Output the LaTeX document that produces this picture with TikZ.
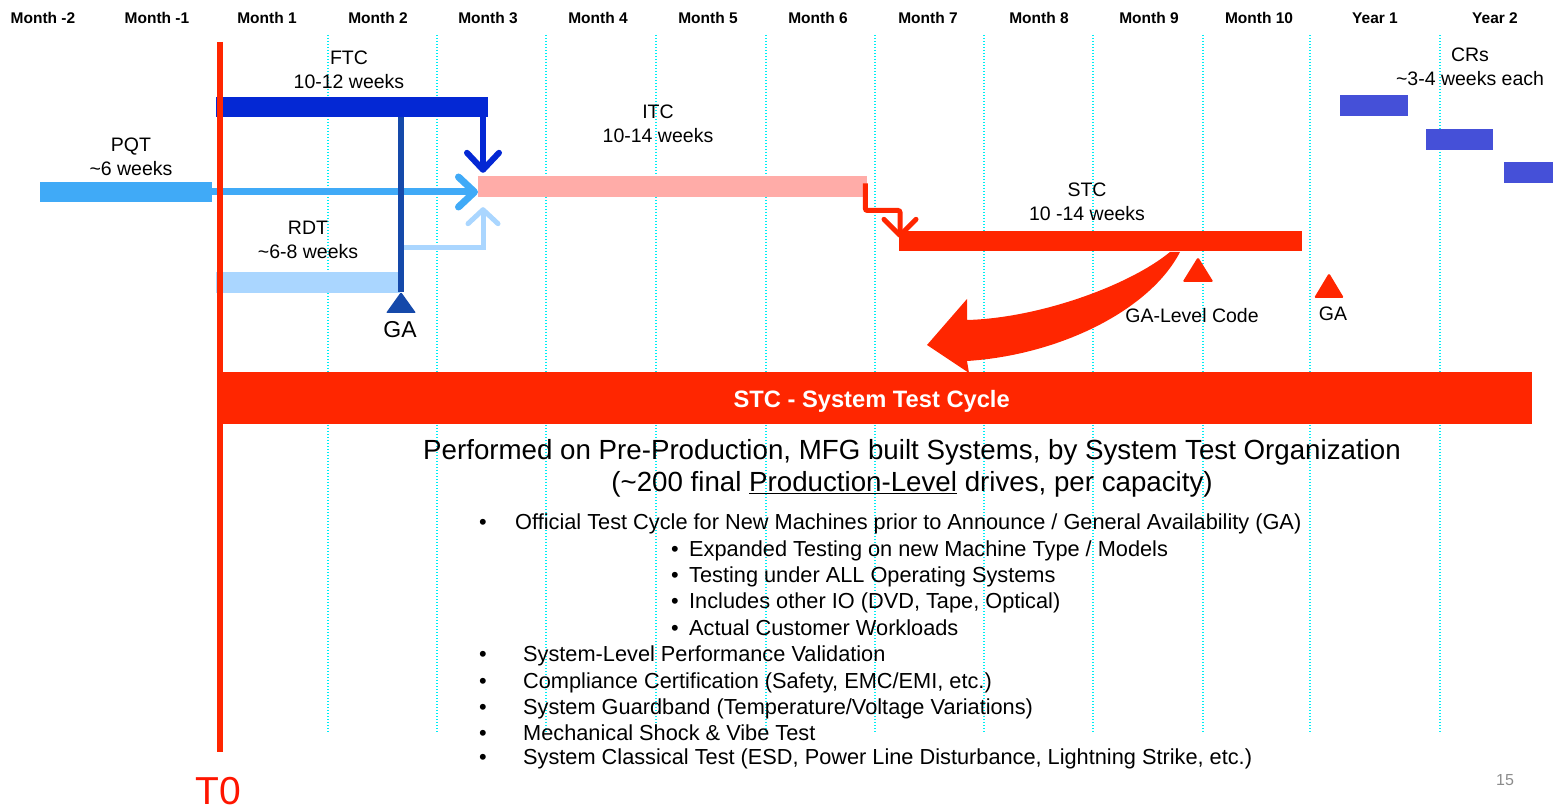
\documentclass[tikz,border=0pt]{standalone}
\usepackage{fontspec}
\setmainfont{Liberation Sans}
\usetikzlibrary{arrows.meta}

\definecolor{stcred}{HTML}{FF2600}
\definecolor{t0red}{HTML}{FF1500}
\definecolor{ftcblue}{HTML}{0428D4}
\definecolor{gablue}{HTML}{1549AA}
\definecolor{pqtblue}{HTML}{40AAF7}
\definecolor{rdtblue}{HTML}{AAD6FF}
\definecolor{itcpink}{HTML}{FFACA8}
\definecolor{crblue}{HTML}{4550D8}
\definecolor{gridcyan}{HTML}{00EEF6}
\definecolor{pagegray}{HTML}{8C8C8C}

\begin{document}
\begin{tikzpicture}[x=1pt,y=-1pt,
  bar/.style={rectangle, inner sep=0pt, anchor=west, minimum height=20pt},
  month/.style={inner sep=0pt, font=\fontsize{15.5}{18}\selectfont\bfseries},
  lbl/.style={align=center, inner sep=0pt, font=\fontsize{19.5}{24}\selectfont},
  item/.style={anchor=base west, inner sep=0pt, font=\fontsize{21.75}{26}\selectfont},
  grid/.style={draw=gridcyan, line width=1.4pt, dash pattern=on 1.4pt off 1.6pt}]
\useasboundingbox (0,0) rectangle (1553,810);

% month lines, about 109.3 apart
\draw[grid] (328,35)--(328,733) (437,35)--(437,733) (546,35)--(546,733)
  (656,35)--(656,733) (766,35)--(766,733) (875,35)--(875,733)
  (984,35)--(984,733) (1093,35)--(1093,733) (1203,35)--(1203,733)
  (1310,35)--(1310,733) (1440,35)--(1440,733);

\node[month] (mm2) at (43,18) {Month -2};
\node[month] (mm1) at (157,18) {Month -1};
\node[month] (m1) at (267,18) {Month 1};
\node[month] (m2) at (378,18) {Month 2};
\node[month] (m3) at (488,18) {Month 3};
\node[month] (m4) at (598,18) {Month 4};
\node[month] (m5) at (708,18) {Month 5};
\node[month] (m6) at (818,18) {Month 6};
\node[month] (m7) at (928,18) {Month 7};
\node[month] (m8) at (1039,18) {Month 8};
\node[month] (m9) at (1149,18) {Month 9};
\node[month] (m10) at (1259,18) {Month 10};
\node[month] (y1) at (1375,18) {Year 1};
\node[month] (y2) at (1495,18) {Year 2};

% test phases
\node[bar, fill=pqtblue, minimum width=172pt] (pqt) at (40,192) {};
\node[bar, fill=ftcblue, minimum width=272pt] (ftc) at (216,107) {};
\node[bar, fill=rdtblue, minimum width=184pt, minimum height=21pt] (rdt) at (216,282.5) {};
\node[bar, fill=itcpink, minimum width=389pt, minimum height=21pt] (itc) at (478,186.5) {};
\node[bar, fill=stcred, minimum width=403pt] (stc) at (899,241) {};
\node[bar, fill=crblue, minimum width=68pt, minimum height=21pt] (cr1) at (1340,105.5) {};
\node[bar, fill=crblue, minimum width=67pt, minimum height=21pt] (cr2) at (1426,139.5) {};
\node[bar, fill=crblue, minimum width=49pt, minimum height=21pt] (cr3) at (1504,172.5) {};

\node[lbl] (ftc_lbl) at (349,70) {FTC\\10-12 weeks};
\node[lbl] (pqt_lbl) at (131,157) {PQT\\\textasciitilde6 weeks};
\node[lbl] (rdt_lbl) at (308,240) {RDT\\\textasciitilde6-8 weeks};
\node[lbl] (itc_lbl) at (658,124) {ITC\\10-14 weeks};
\node[lbl] (stc_lbl) at (1087,202) {STC\\10 -14 weeks};
\node[lbl] (cr_lbl) at (1470,67) {CRs\\\textasciitilde3-4 weeks each};

% into ITC: tips 5pt right of its left end
\coordinate (ftc_in) at ([xshift=5pt,yshift=3pt]itc.north west);
\coordinate (rdt_in) at ([xshift=5pt,yshift=-10pt]itc.south west);
\draw[pqtblue, line width=7pt, -{Straight Barb[length=16pt,width=30pt,round]}]
  (pqt.east) -- (pqt.east -| itc.west);
\draw[ftcblue, line width=6pt, -{Straight Barb[length=17pt,width=32pt,round]}]
  (ftc.east -| ftc_in) -- (ftc_in);
\draw[rdtblue, line width=5pt, -{Straight Barb[length=14pt,width=30pt,round]}]
  (rdt.north east) -- ++(0,-24) -| (rdt_in);

% GA after FTC
\coordinate (ga_top) at (401,292);
\draw[gablue, line width=5.5pt] (ftc.south -| ga_top) -- (ga_top);
\fill[gablue, rounded corners=1pt] (ga_top) -- ++(15,21) -- ++(-30,0) -- cycle;
\node[inner sep=0pt, font=\fontsize{23}{26}\selectfont] (ga_lbl) at (400,330) {GA};

% ITC into STC
\coordinate (stc_in) at ([xshift=1pt,yshift=-7pt]stc.north west);
\draw[stcred, line width=5pt, rounded corners=2pt, -{Straight Barb[length=16pt,width=32pt,round]}]
  ([xshift=-2pt,yshift=3pt]itc.east) -- ++(0,27) -| (stc_in);

% big bent arrow down to the cycle bar
\fill[stcred] (1170,252) .. controls (1130,285) and (1040,318) .. (967,320)
  -- (967,299) -- (927,345) -- (969,373) -- (967,361)
  .. controls (1060,355) and (1150,310) .. (1180,252) -- cycle;

\coordinate (gl_top) at (1198,257);
\fill[stcred, rounded corners=1.5pt] (gl_top) -- ++(15.5,25) -- ++(-31,0) -- cycle;
\node[lbl] (gl_lbl) at (1192,316) {GA-Level Code};
\coordinate (ga2_top) at (1329,273);
\fill[stcred, rounded corners=1.5pt] (ga2_top) -- ++(15,25) -- ++(-30,0) -- cycle;
\node[lbl] (ga2_lbl) at (1333,314) {GA};

\node[bar, fill=stcred, minimum width=1313pt, minimum height=52pt] (cycle) at (219,398) {};
\node[text=white, inner sep=0pt, font=\fontsize{23.7}{26}\selectfont\bfseries] (cycle_lbl)
  at ([xshift=-4pt,yshift=-3pt]cycle.center) {STC - System Test Cycle};

\node[align=center, inner sep=0pt, font=\fontsize{27.7}{32}\selectfont] (perf) at (912,468)
  {Performed on Pre-Production, MFG built Systems, by System Test Organization\\
   (\textasciitilde200 final \underline{Production-Level} drives, per capacity)};

% visual centre + 7.7 = baseline
\node[item] (b1) at (479,529) {\makebox[36pt][l]{\textbullet}Official Test Cycle for New Machines prior to Announce / General Availability (GA)};
\node[item] (s1) at (671,556) {\makebox[18pt][l]{\textbullet}Expanded Testing on new Machine Type / Models};
\node[item] (s2) at (671,582) {\makebox[18pt][l]{\textbullet}Testing under ALL Operating Systems};
\node[item] (s3) at (671,608) {\makebox[18pt][l]{\textbullet}Includes other IO (DVD, Tape, Optical)};
\node[item] (s4) at (671,635) {\makebox[18pt][l]{\textbullet}Actual Customer Workloads};
\node[item] (b2) at (479,661) {\makebox[44pt][l]{\textbullet}System-Level Performance Validation};
\node[item] (b3) at (479,688) {\makebox[44pt][l]{\textbullet}Compliance Certification (Safety, EMC/EMI, etc.)};
\node[item] (b4) at (479,714) {\makebox[44pt][l]{\textbullet}System Guardband (Temperature/Voltage Variations)};
\node[item] (b5) at (479,740) {\makebox[44pt][l]{\textbullet}Mechanical Shock \& Vibe Test};
\node[item] (b6) at (479,764) {\makebox[44pt][l]{\textbullet}System Classical Test (ESD, Power Line Disturbance, Lightning Strike, etc.)};

% T0 line
\coordinate (t0_top) at (219.5,42);
\coordinate (t0_bot) at (219.5,752);
\draw[stcred, line width=6pt] (t0_top) -- (t0_bot);
\node[text=t0red, inner sep=0pt, font=\fontsize{39}{42}\selectfont] (t0) at (218,791) {T0};

\node[text=pagegray, inner sep=0pt, font=\fontsize{16}{18}\selectfont] (page) at (1505,780) {15};
\end{tikzpicture}
\end{document}
